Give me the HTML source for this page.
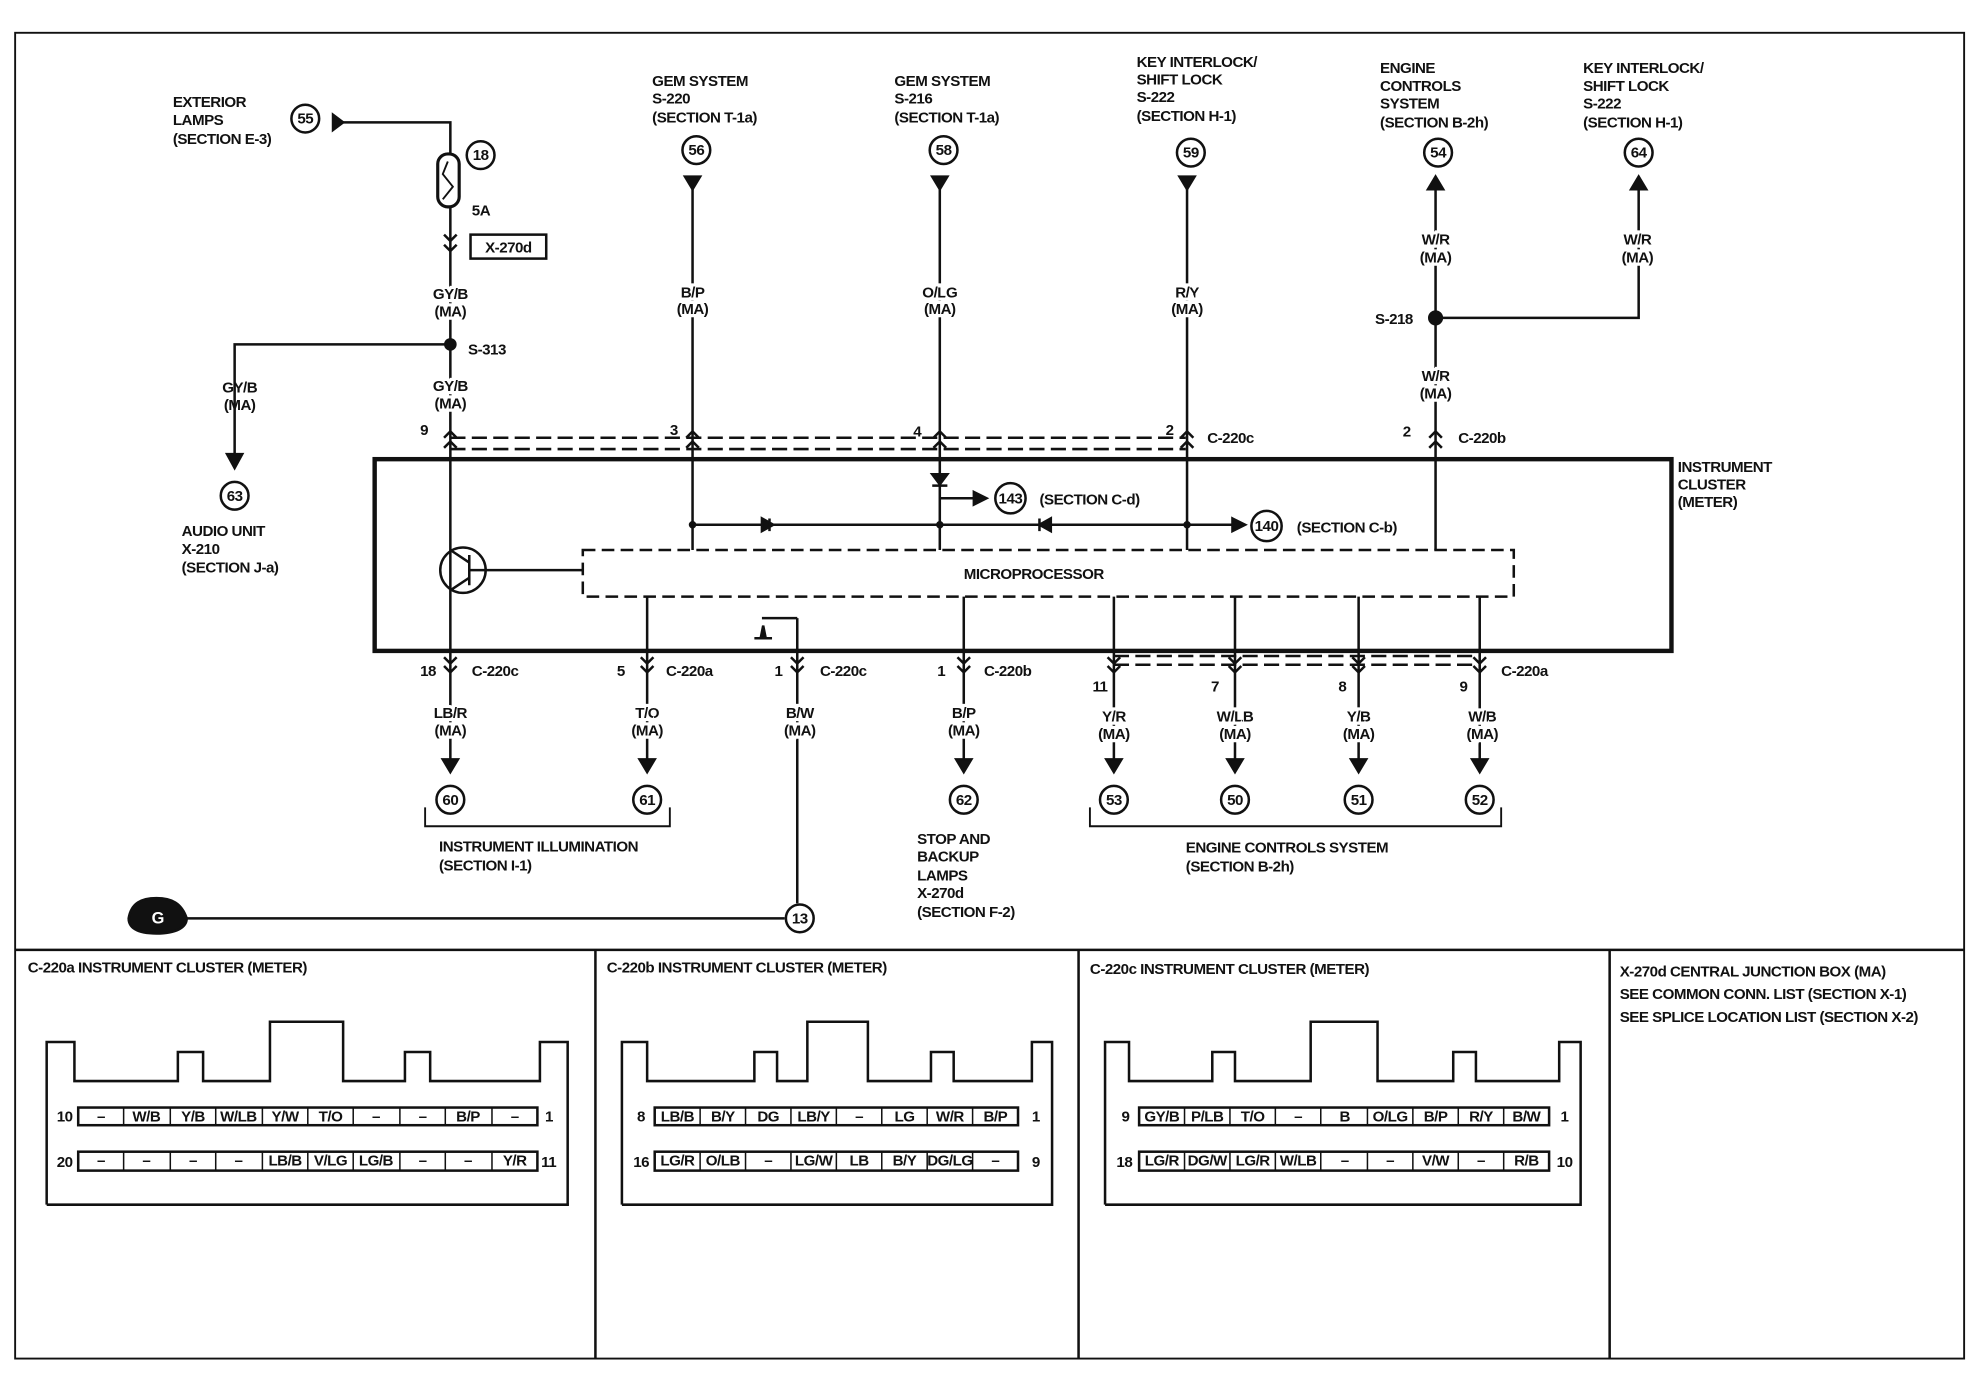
<!DOCTYPE html>
<html><head><meta charset="utf-8"><style>
html,body{margin:0;padding:0;background:#fff}
svg{display:block}
text{font-family:"Liberation Sans",sans-serif;font-size:12px;font-weight:bold;fill:#111;letter-spacing:-0.4px}
.l{stroke:#fff;stroke-width:5px;paint-order:stroke}
.c{font-size:11px;text-anchor:middle}
.t{font-size:7.5px;font-weight:normal;text-anchor:middle}
</style></head><body>
<svg width="1978" height="1392" viewBox="0 0 1568 1103.5" preserveAspectRatio="none" xmlns="http://www.w3.org/2000/svg">
<g fill="none" stroke="#111" stroke-width="2">
<rect x="12" y="26" width="1545" height="1051" stroke-width="1.5"/>
<line x1="12" y1="753" x2="1557" y2="753"/>
<line x1="472" y1="753" x2="472" y2="1077"/>
<line x1="855" y1="753" x2="855" y2="1077"/>
<line x1="1276" y1="753" x2="1276" y2="1077"/>
<rect x="297" y="364" width="1028" height="152" stroke-width="3.5"/>
<rect x="462" y="436" width="738" height="37" stroke-dasharray="10,5"/>
<path d="M357 347H940M357 356H940" stroke-dasharray="12,5"/>
<path d="M270 97H357V122"/>
<path d="M264 91L272 97L264 103Z" fill="#111"/>
<rect x="347" y="122" width="17" height="42" rx="8" stroke-width="2.5"/>
<path d="M355 128L351 138L359 148L351 158" stroke-width="1.5"/>
<path d="M357 164V602"/>
<path d="M352 186L357 191L362 186M352 194L357 199L362 194"/>
<rect x="373" y="186" width="60" height="19" stroke-width="2"/>
<path d="M357 273H186V362"/>
<circle cx="357" cy="273" r="4" fill="#111"/>
<circle cx="367" cy="452" r="18"/>
<path d="M372 440V464M372 452H462M372 446L357 436M372 458L357 468"/>
<path d="M549 148V436M745 148V436M941 148V436M1138 148V436"/>
<path d="M543 140L549 150L555 140Z M739 140L745 150L751 140Z M935 140L941 150L947 140Z" fill="#111"/>
<path d="M1132 150L1138 140L1144 150Z M1293 150L1299 140L1305 150Z" fill="#111"/>
<path d="M1138 252H1299V150"/>
<circle cx="1138" cy="252" r="5" fill="#111"/>
<path d="M352 347L357 342L362 347M352 355L357 350L362 355"/>
<path d="M544 347L549 342L554 347M544 355L549 350L554 355"/>
<path d="M740 347L745 342L750 347M740 355L745 350L750 355"/>
<path d="M936 347L941 342L946 347M936 355L941 350L946 355"/>
<path d="M1133 347L1138 342L1143 347M1133 355L1138 350L1143 355"/>
<path d="M549 416H985M745 395H772"/>
<path d="M604 411V421L613 416Z M610 411V421" fill="#111"/>
<path d="M833 411V421L824 416Z M824 411V421" fill="#111"/>
<path d="M739 376H751L745 384Z M739 385H751" fill="#111"/>
<path d="M772 390L782 395L772 400Z M977 411L987 416L977 421Z" fill="#111"/>
<circle cx="549" cy="416" r="2" fill="#111"/><circle cx="745" cy="416" r="2" fill="#111"/><circle cx="941" cy="416" r="2" fill="#111"/>
<path d="M513 473V602M764 473V602M883 473V602M979 473V602M1077 473V602M1173 473V602M632 490V716M604 490H632"/>
<path d="M598 506H612M603 506L605 496L607 506" fill="#111"/>
<path d="M351 602H363L357 612Z M507 602H519L513 612Z M758 602H770L764 612Z M877 602H889L883 612Z M973 602H985L979 612Z M1071 602H1083L1077 612Z M1167 602H1179L1173 612Z M180 360H192L186 371Z" fill="#111"/>
<path d="M883 520H1173M883 527H1173" stroke-dasharray="12,5"/>
<path d="M352 521L357 526L362 521M352 528L357 533L362 528"/>
<path d="M508 521L513 526L518 521M508 528L513 533L518 528"/>
<path d="M627 521L632 526L637 521M627 528L632 533L637 528"/>
<path d="M759 521L764 526L769 521M759 528L764 533L769 528"/>
<path d="M878 521L883 526L888 521M878 528L883 533L888 528"/>
<path d="M974 521L979 526L984 521M974 528L979 533L984 528"/>
<path d="M1072 521L1077 526L1082 521M1072 528L1077 533L1082 528"/>
<path d="M1168 521L1173 526L1178 521M1168 528L1173 533L1178 528"/>
<path d="M337 640V655H531V640M864 640V655H1190V640" stroke-width="1.5"/>
<path d="M140 728H622"/>
<path d="M102 728C104 716 112 712 124 712C136 712 144 716 148 728C148 735 140 740 124 740C108 740 102 735 102 728Z" fill="#111"/>
<g stroke-width="2">
<circle cx="242" cy="94" r="11"/><circle cx="381" cy="123" r="11"/><circle cx="552" cy="119" r="11"/><circle cx="748" cy="119" r="11"/><circle cx="944" cy="121" r="11"/><circle cx="1140" cy="121" r="11"/><circle cx="1299" cy="121" r="11"/><circle cx="186" cy="393" r="11"/><circle cx="801" cy="395" r="12"/><circle cx="1004" cy="417" r="12"/><circle cx="357" cy="634" r="11"/><circle cx="513" cy="634" r="11"/><circle cx="764" cy="634" r="11"/><circle cx="883" cy="634" r="11"/><circle cx="979" cy="634" r="11"/><circle cx="1077" cy="634" r="11"/><circle cx="1173" cy="634" r="11"/><circle cx="634" cy="728" r="11"/>
</g>
</g>
<g class="c">
<text x="242" y="98">55</text><text x="381" y="127">18</text><text x="552" y="123">56</text><text x="748" y="123">58</text><text x="944" y="125">59</text><text x="1140" y="125">54</text><text x="1299" y="125">64</text><text x="186" y="397">63</text><text x="801" y="399">143</text><text x="1004" y="421">140</text><text x="357" y="638">60</text><text x="513" y="638">61</text><text x="764" y="638">62</text><text x="883" y="638">53</text><text x="979" y="638">50</text><text x="1077" y="638">51</text><text x="1173" y="638">52</text><text x="634" y="732">13</text>
</g>
<text x="125" y="732" style="fill:#fff;font-size:13px" text-anchor="middle">G</text>
<text x="137" y="85">EXTERIOR</text><text x="137" y="99">LAMPS</text><text x="137" y="114">(SECTION E-3)</text>
<text x="517" y="68">GEM SYSTEM</text><text x="517" y="82">S-220</text><text x="517" y="97">(SECTION T-1a)</text>
<text x="709" y="68">GEM SYSTEM</text><text x="709" y="82">S-216</text><text x="709" y="97">(SECTION T-1a)</text>
<text x="901" y="53">KEY INTERLOCK/</text><text x="901" y="67">SHIFT LOCK</text><text x="901" y="81">S-222</text><text x="901" y="96">(SECTION H-1)</text>
<text x="1094" y="58">ENGINE</text><text x="1094" y="72">CONTROLS</text><text x="1094" y="86">SYSTEM</text><text x="1094" y="101">(SECTION B-2h)</text>
<text x="1255" y="58">KEY INTERLOCK/</text><text x="1255" y="72">SHIFT LOCK</text><text x="1255" y="86">S-222</text><text x="1255" y="101">(SECTION H-1)</text>
<text x="374" y="171">5A</text><text x="403" y="200" text-anchor="middle">X-270d</text>
<g text-anchor="middle">
<text class="l" x="357" y="237">GY/B</text><text class="l" x="357" y="251">(MA)</text>
<text class="l" x="357" y="310">GY/B</text><text class="l" x="357" y="324">(MA)</text>
<text x="190" y="311">GY/B</text><text x="190" y="325">(MA)</text>
<text class="l" x="549" y="236">B/P</text><text class="l" x="549" y="249">(MA)</text>
<text class="l" x="745" y="236">O/LG</text><text class="l" x="745" y="249">(MA)</text>
<text class="l" x="941" y="236">R/Y</text><text class="l" x="941" y="249">(MA)</text>
<text class="l" x="1138" y="194">W/R</text><text class="l" x="1138" y="208">(MA)</text>
<text class="l" x="1298" y="194">W/R</text><text class="l" x="1298" y="208">(MA)</text>
<text class="l" x="1138" y="302">W/R</text><text class="l" x="1138" y="316">(MA)</text>
<text class="l" x="357" y="569">LB/R</text><text class="l" x="357" y="583">(MA)</text>
<text class="l" x="513" y="569">T/O</text><text class="l" x="513" y="583">(MA)</text>
<text class="l" x="634" y="569">B/W</text><text class="l" x="634" y="583">(MA)</text>
<text class="l" x="764" y="569">B/P</text><text class="l" x="764" y="583">(MA)</text>
<text class="l" x="883" y="572">Y/R</text><text class="l" x="883" y="586">(MA)</text>
<text class="l" x="979" y="572">W/LB</text><text class="l" x="979" y="586">(MA)</text>
<text class="l" x="1077" y="572">Y/B</text><text class="l" x="1077" y="586">(MA)</text>
<text class="l" x="1175" y="572">W/B</text><text class="l" x="1175" y="586">(MA)</text>
</g>
<text x="371" y="281">S-313</text><text x="1090" y="257">S-218</text>
<text x="333" y="345">9</text><text x="531" y="345">3</text><text x="724" y="346">4</text><text x="924" y="345">2</text><text x="957" y="351">C-220c</text>
<text x="1112" y="346">2</text><text x="1156" y="351">C-220b</text>
<text x="1330" y="374">INSTRUMENT</text><text x="1330" y="388">CLUSTER</text><text x="1330" y="402">(METER)</text>
<text x="144" y="425">AUDIO UNIT</text><text x="144" y="439">X-210</text><text x="144" y="454">(SECTION J-a)</text>
<text x="824" y="400">(SECTION C-d)</text><text x="1028" y="422">(SECTION C-b)</text>
<text x="764" y="459">MICROPROCESSOR</text>
<text x="333" y="536">18</text><text x="374" y="536">C-220c</text>
<text x="489" y="536">5</text><text x="528" y="536">C-220a</text>
<text x="614" y="536">1</text><text x="650" y="536">C-220c</text>
<text x="743" y="536">1</text><text x="780" y="536">C-220b</text>
<text x="866" y="548">11</text><text x="960" y="548">7</text><text x="1061" y="548">8</text><text x="1157" y="548">9</text><text x="1190" y="536">C-220a</text>
<text x="348" y="675">INSTRUMENT ILLUMINATION</text><text x="348" y="690">(SECTION I-1)</text>
<text x="727" y="669">STOP AND</text><text x="727" y="683">BACKUP</text><text x="727" y="698">LAMPS</text><text x="727" y="712">X-270d</text><text x="727" y="727">(SECTION F-2)</text>
<text x="940" y="676">ENGINE CONTROLS SYSTEM</text><text x="940" y="691">(SECTION B-2h)</text>
<text x="22" y="771">C-220a  INSTRUMENT CLUSTER  (METER)</text>
<text x="481" y="771">C-220b  INSTRUMENT CLUSTER  (METER)</text>
<text x="864" y="772">C-220c  INSTRUMENT CLUSTER  (METER)</text>
<text x="1284" y="774">X-270d  CENTRAL JUNCTION BOX (MA)</text>
<text x="1284" y="792">SEE COMMON CONN. LIST (SECTION X-1)</text>
<text x="1284" y="810">SEE SPLICE LOCATION LIST (SECTION X-2)</text>
<g fill="none" stroke="#111" stroke-width="2">
<path d="M37 955V826H59V857H141V834H161V857H214V810H272V857H321V834H341V857H428V826H450V955"/>
<path d="M37 955H451"/>
<rect x="62" y="878" width="364" height="14"/><rect x="62" y="913" width="364" height="15"/>
<path d="M98 878v14M135 878v14M171 878v14M208 878v14M244 878v14M280 878v14M317 878v14M353 878v14M390 878v14M98 913v15M135 913v15M171 913v15M208 913v15M244 913v15M280 913v15M317 913v15M353 913v15M390 913v15" stroke-width="1.2"/>
<path d="M493 955V826H513V857H598V834H616V857H640V810H688V857H738V834H756V857H818V826H834V955H493"/>
<rect x="519" y="878" width="288" height="14"/><rect x="519" y="913" width="288" height="15"/>
<path d="M555 878v14M591 878v14M627 878v14M663 878v14M699 878v14M735 878v14M771 878v14M555 913v15M591 913v15M627 913v15M663 913v15M699 913v15M735 913v15M771 913v15" stroke-width="1.2"/>
<path d="M876 955V826H895V857H961V834H979V857H1039V810H1092V857H1152V834H1170V857H1236V826H1253V955H876"/>
<rect x="903" y="878" width="325" height="14"/><rect x="903" y="913" width="325" height="15"/>
<path d="M939 878v14M975 878v14M1011 878v14M1047 878v14M1084 878v14M1120 878v14M1156 878v14M1192 878v14M939 913v15M975 913v15M1011 913v15M1047 913v15M1084 913v15M1120 913v15M1156 913v15M1192 913v15" stroke-width="1.2"/>
</g>
<text x="45" y="889">10</text><text x="432" y="889">1</text><text x="45" y="925">20</text><text x="429" y="925">11</text>
<text x="505" y="889">8</text><text x="818" y="889">1</text><text x="502" y="925">16</text><text x="818" y="925">9</text>
<text x="889" y="889">9</text><text x="1237" y="889">1</text><text x="885" y="925">18</text><text x="1234" y="925">10</text>
<g class="t">
<text x="80" y="889">–</text><text x="116" y="889">W/B</text><text x="153" y="889">Y/B</text><text x="189" y="889">W/LB</text><text x="226" y="889">Y/W</text><text x="262" y="889">T/O</text><text x="298" y="889">–</text><text x="335" y="889">–</text><text x="371" y="889">B/P</text><text x="408" y="889">–</text>
<text x="80" y="924">–</text><text x="116" y="924">–</text><text x="153" y="924">–</text><text x="189" y="924">–</text><text x="226" y="924">LB/B</text><text x="262" y="924">V/LG</text><text x="298" y="924">LG/B</text><text x="335" y="924">–</text><text x="371" y="924">–</text><text x="408" y="924">Y/R</text>
<text x="537" y="889">LB/B</text><text x="573" y="889">B/Y</text><text x="609" y="889">DG</text><text x="645" y="889">LB/Y</text><text x="681" y="889">–</text><text x="717" y="889">LG</text><text x="753" y="889">W/R</text><text x="789" y="889">B/P</text>
<text x="537" y="924">LG/R</text><text x="573" y="924">O/LB</text><text x="609" y="924">–</text><text x="645" y="924">LG/W</text><text x="681" y="924">LB</text><text x="717" y="924">B/Y</text><text x="753" y="924">DG/LG</text><text x="789" y="924">–</text>
<text x="921" y="889">GY/B</text><text x="957" y="889">P/LB</text><text x="993" y="889">T/O</text><text x="1029" y="889">–</text><text x="1066" y="889">B</text><text x="1102" y="889">O/LG</text><text x="1138" y="889">B/P</text><text x="1174" y="889">R/Y</text><text x="1210" y="889">B/W</text>
<text x="921" y="924">LG/R</text><text x="957" y="924">DG/W</text><text x="993" y="924">LG/R</text><text x="1029" y="924">W/LB</text><text x="1066" y="924">–</text><text x="1102" y="924">–</text><text x="1138" y="924">V/W</text><text x="1174" y="924">–</text><text x="1210" y="924">R/B</text>
</g>
</svg>
</body></html>
